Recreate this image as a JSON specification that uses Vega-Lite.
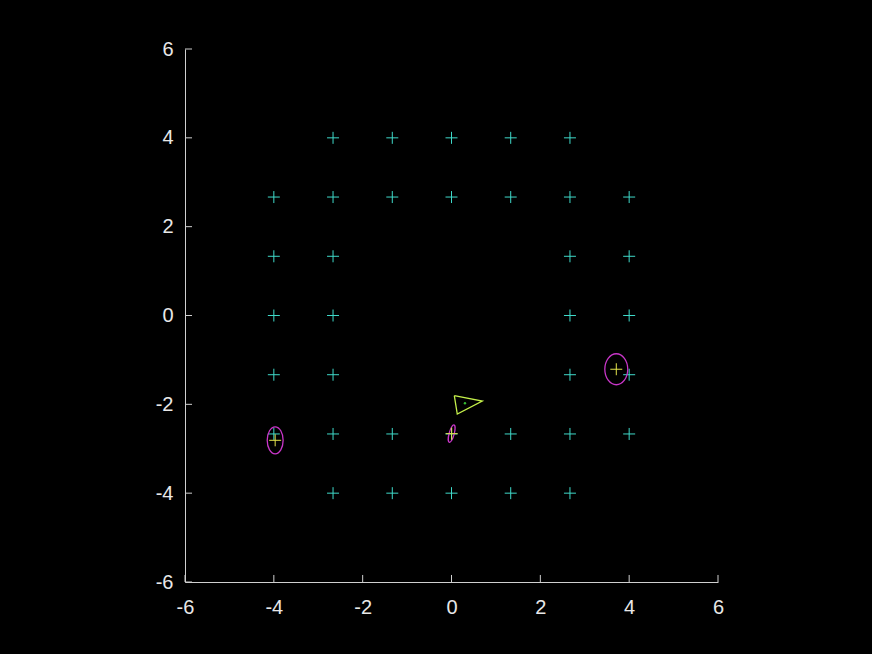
{
  "$schema": "https://vega.github.io/schema/vega-lite/v6.json",
  "autosize": "none",
  "width": 533,
  "height": 533,
  "padding": {"left": 185, "top": 49, "right": 154, "bottom": 72},
  "background": "#000000",
  "config": {
    "view": {"stroke": null}
  },
  "datasets": {
    "grid": [
      {"x": -2.667, "y": 4}, {"x": -1.333, "y": 4}, {"x": 0, "y": 4}, {"x": 1.333, "y": 4}, {"x": 2.667, "y": 4},
      {"x": -4, "y": 2.667}, {"x": -2.667, "y": 2.667}, {"x": -1.333, "y": 2.667}, {"x": 0, "y": 2.667}, {"x": 1.333, "y": 2.667}, {"x": 2.667, "y": 2.667}, {"x": 4, "y": 2.667},
      {"x": -4, "y": 1.333}, {"x": -2.667, "y": 1.333}, {"x": 2.667, "y": 1.333}, {"x": 4, "y": 1.333},
      {"x": -4, "y": 0}, {"x": -2.667, "y": 0}, {"x": 2.667, "y": 0}, {"x": 4, "y": 0},
      {"x": -4, "y": -1.333}, {"x": -2.667, "y": -1.333}, {"x": 2.667, "y": -1.333}, {"x": 4, "y": -1.333},
      {"x": -4, "y": -2.667}, {"x": -2.667, "y": -2.667}, {"x": -1.333, "y": -2.667}, {"x": 0, "y": -2.667}, {"x": 1.333, "y": -2.667}, {"x": 2.667, "y": -2.667}, {"x": 4, "y": -2.667},
      {"x": -2.667, "y": -4}, {"x": -1.333, "y": -4}, {"x": 0, "y": -4}, {"x": 1.333, "y": -4}, {"x": 2.667, "y": -4}
    ],
    "centers": [
      {"x": -3.97, "y": -2.81},
      {"x": 0.004, "y": -2.66},
      {"x": 3.71, "y": -1.21}
    ],
    "triangle": [
      {"x": 0.063, "y": -1.806, "k": 0},
      {"x": 0.693, "y": -1.925, "k": 1},
      {"x": 0.13, "y": -2.218, "k": 2},
      {"x": 0.063, "y": -1.806, "k": 3}
    ],
    "dot": [{"x": 0.303, "y": -1.977}],
    "xticks": [
      {"x": -6, "y": -6, "y2": -5.842}, {"x": -4, "y": -6, "y2": -5.842}, {"x": -2, "y": -6, "y2": -5.842},
      {"x": 0, "y": -6, "y2": -5.842}, {"x": 2, "y": -6, "y2": -5.842}, {"x": 4, "y": -6, "y2": -5.842},
      {"x": 6, "y": -6, "y2": -5.842}
    ],
    "yticks": [
      {"y": -6, "x": -6, "x2": -5.842}, {"y": -4, "x": -6, "x2": -5.842}, {"y": -2, "x": -6, "x2": -5.842},
      {"y": 0, "x": -6, "x2": -5.842}, {"y": 2, "x": -6, "x2": -5.842}, {"y": 4, "x": -6, "x2": -5.842},
      {"y": 6, "x": -6, "x2": -5.842}
    ]
  },
  "encoding": {
    "x": {
      "field": "x", "type": "quantitative",
      "scale": {"domain": [-6, 6], "nice": false, "zero": false},
      "axis": {
        "title": null, "grid": false, "values": [-6, -4, -2, 0, 2, 4, 6],
        "labelExpr": "'' + datum.value", "labelFlush": false, "labelOverlap": false,
        "labelFont": "Liberation Sans", "labelFontSize": 20, "labelColor": "#e8e8e8",
        "domainColor": "#d0d0d0", "ticks": false, "labelPadding": 15
      }
    },
    "y": {
      "field": "y", "type": "quantitative",
      "scale": {"domain": [-6, 6], "nice": false, "zero": false},
      "axis": {
        "title": null, "grid": false, "values": [-6, -4, -2, 0, 2, 4, 6],
        "labelExpr": "'' + datum.value", "labelFlush": false, "labelOverlap": false,
        "labelFont": "Liberation Sans", "labelFontSize": 20, "labelColor": "#e8e8e8",
        "domainColor": "#d0d0d0", "ticks": false, "labelPadding": 12
      }
    }
  },
  "layer": [
    {
      "data": {"name": "xticks"},
      "mark": {"type": "rule", "color": "#d0d0d0", "strokeWidth": 1},
      "encoding": {"y2": {"field": "y2"}}
    },
    {
      "data": {"name": "yticks"},
      "mark": {"type": "rule", "color": "#d0d0d0", "strokeWidth": 1},
      "encoding": {"x2": {"field": "x2"}}
    },
    {
      "data": {"name": "grid"},
      "mark": {"type": "point", "shape": "M-1,0H1M0,-1V1", "size": 144, "filled": false, "stroke": "#3fd9c9", "strokeWidth": 1, "opacity": 1}
    },
    {
      "data": {"name": "centers"},
      "transform": [{"filter": "datum.x < -3"}],
      "mark": {"type": "point", "shape": "M0,-1A0.59,1 0 1,1 0,1A0.59,1 0 1,1 0,-1Z", "size": 729, "filled": false, "stroke": "#c836c8", "strokeWidth": 1.3, "opacity": 1}
    },
    {
      "data": {"name": "centers"},
      "transform": [{"filter": "datum.x > -1 && datum.x < 1"}],
      "mark": {"type": "point", "shape": "M0,-1A0.28,1 0 1,1 0,1A0.28,1 0 1,1 0,-1Z", "size": 324, "angle": 15, "filled": false, "stroke": "#c836c8", "strokeWidth": 1.3, "opacity": 1}
    },
    {
      "data": {"name": "centers"},
      "transform": [{"filter": "datum.x > 3"}],
      "mark": {"type": "point", "shape": "M0,-1A0.74,1 0 1,1 0,1A0.74,1 0 1,1 0,-1Z", "size": 961, "filled": false, "stroke": "#c836c8", "strokeWidth": 1.3, "opacity": 1}
    },
    {
      "data": {"name": "centers"},
      "mark": {"type": "point", "shape": "M-1,0H1M0,-1V1", "size": 144, "filled": false, "stroke": "#e4e44c", "strokeWidth": 1, "opacity": 1}
    },
    {
      "data": {"name": "triangle"},
      "mark": {"type": "line", "color": "#c4f04a", "strokeWidth": 1.3},
      "encoding": {"order": {"field": "k", "type": "quantitative"}}
    },
    {
      "data": {"name": "dot"},
      "mark": {"type": "point", "shape": "circle", "size": 6, "filled": true, "color": "#33bb33", "opacity": 1}
    }
  ]
}
